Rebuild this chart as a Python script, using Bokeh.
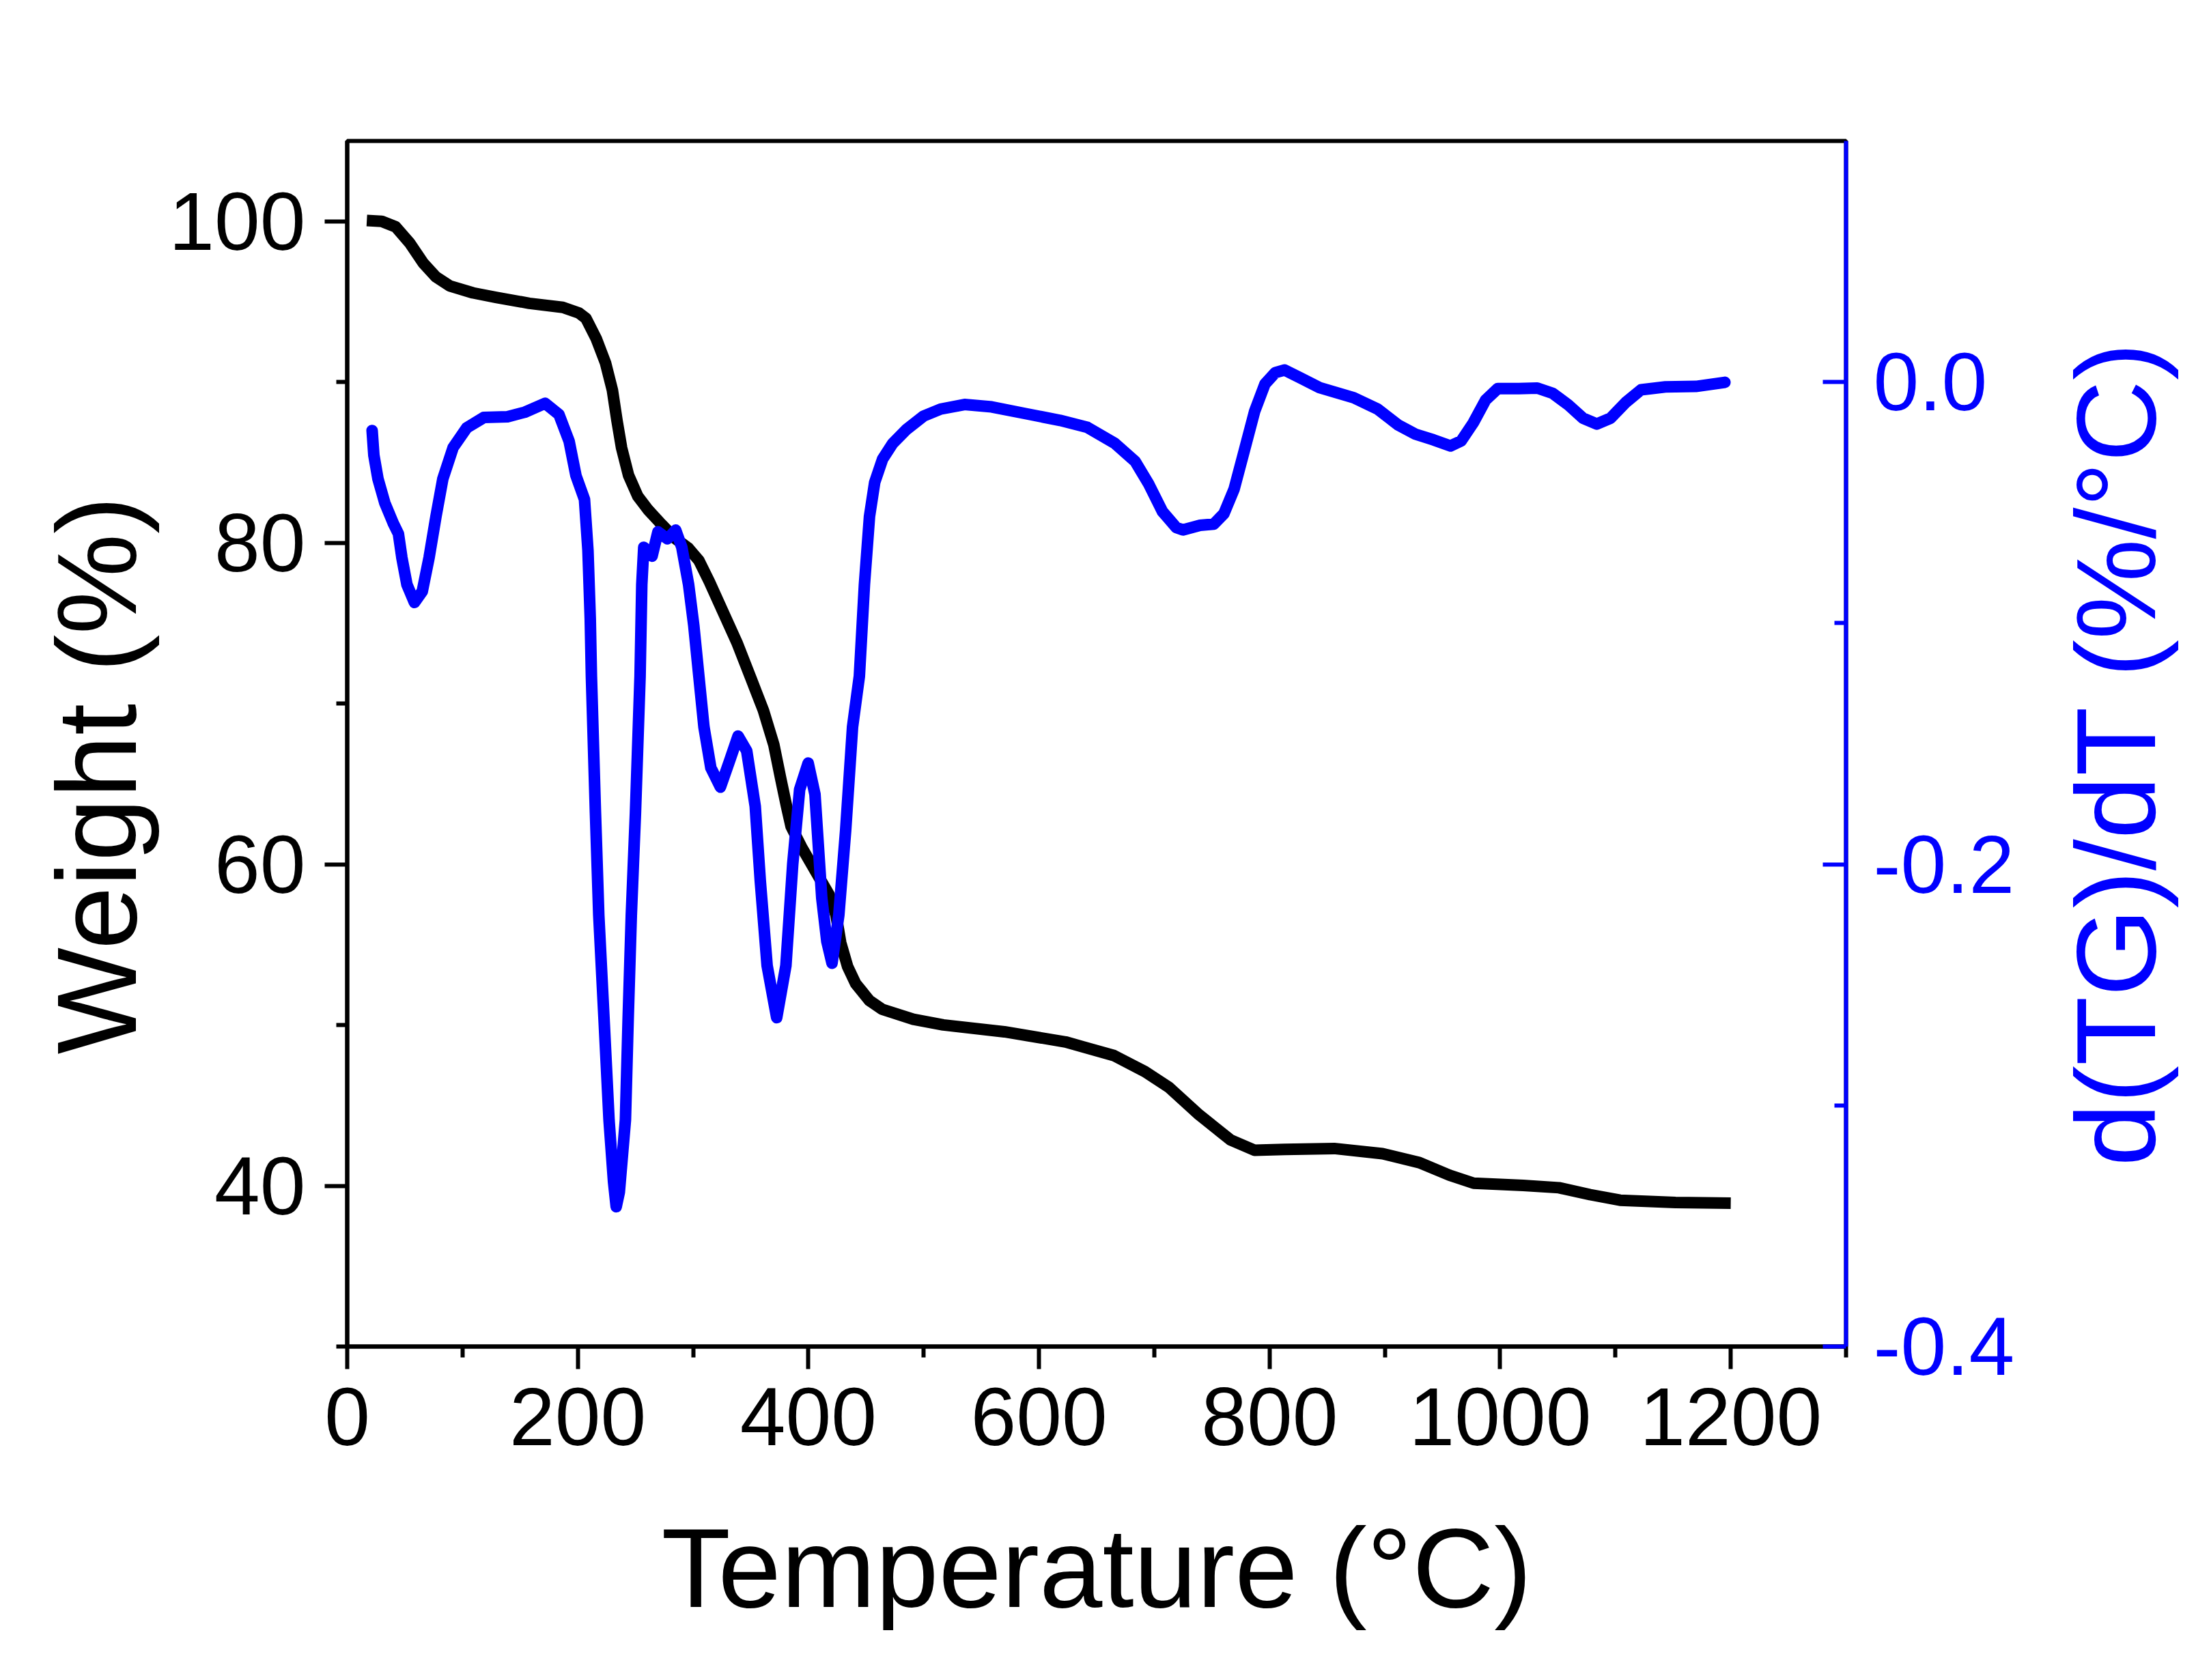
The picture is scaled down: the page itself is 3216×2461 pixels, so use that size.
import math
from bokeh.plotting import figure
from bokeh.models import Range1d, LinearAxis, FixedTicker, PrintfTickFormatter
from bokeh.embed import file_html
from bokeh.resources import INLINE

# ---- data ----
temp_tg = [17, 30, 42, 54, 66, 77, 89, 109, 129, 158,
           187, 201, 207, 216, 224, 230, 234, 238, 244, 252,
           261, 272, 284, 296, 305, 314, 326, 338, 350, 361,
           370, 376, 381, 385, 394, 406, 418, 424, 428, 434,
           441, 453, 464, 491, 517, 570, 623, 665, 692, 713,
           739, 766, 787, 813, 856, 898, 930, 956, 977, 1020,
           1051, 1078, 1104, 1152, 1200]
weight = [100.05, 100.0, 99.66, 98.67, 97.4, 96.54, 95.98, 95.55, 95.27, 94.9,
          94.65, 94.3, 93.97, 92.7, 91.2, 89.5, 87.6, 85.9, 84.2, 82.9,
          82.05, 81.2, 80.3, 79.66, 78.9, 77.6, 75.7, 73.8, 71.6, 69.57,
          67.45, 65.33, 63.63, 62.35, 61.08, 59.59, 58.1, 56.83, 55.13, 53.64,
          52.58, 51.52, 50.98, 50.36, 50.01, 49.58, 48.95, 48.1, 47.1, 46.11,
          44.41, 42.86, 42.21, 42.26, 42.32, 42.0, 41.44, 40.66, 40.16, 40.02,
          39.88, 39.45, 39.1, 38.96, 38.92]

temp_dtg = [21.6, 23.1, 26.7, 32.6, 40.0, 44.4, 47.4, 51.8, 58.3, 65.1,
            71.0, 77.0, 82.9, 91.8, 103.6, 118.4, 139.0, 154.0, 171.7, 183.6,
            192.5, 198.4, 205.8, 208.8, 210.8, 211.8, 215.3, 218.2, 222.7, 227.1,
            231.0, 233.3, 236.0, 241.3, 243.7, 246.4, 250.0, 254.0, 255.5, 257.2,
            260.5, 264.4, 269.5, 277.8, 284.9, 290.2, 296.1, 300.6, 305.0, 309.4,
            315.4, 323.7, 331.7, 339.0, 346.5, 353.9, 358.3, 364.2, 372.5, 380.5,
            386.4, 392.4, 399.8, 405.7, 411.6, 416.0, 420.5, 426.4, 432.3, 438.3,
            444.2, 448.6, 453.0, 457.5, 464.3, 473.2, 485.0, 499.9, 514.7, 535.4,
            559.0, 588.7, 618.3, 642.0, 665.7, 683.4, 695.3, 707.1, 719.0, 724.9,
            739.7, 751.6, 760.4, 769.3, 778.2, 787.0, 796.0, 804.9, 813.1, 825.6,
            843.4, 873.0, 893.7, 911.5, 926.5, 942.3, 956.9, 966.2, 976.7, 987.3,
            997.9, 1016.3, 1032.2, 1045.3, 1058.7, 1071.9, 1083.8, 1095.7, 1109.0, 1122.2,
            1143.3, 1169.7, 1194.9]
dtg = [-0.0201, -0.0303, -0.0402, -0.0501, -0.0586, -0.0629, -0.0728, -0.0840, -0.0914, -0.0868,
       -0.0728, -0.0557, -0.0402, -0.0272, -0.0190, -0.0147, -0.0144, -0.0125, -0.0088, -0.0134,
       -0.0246, -0.0388, -0.0487, -0.0698, -0.0982, -0.1220, -0.1787, -0.2212, -0.2637, -0.3062,
       -0.3317, -0.3420, -0.3360, -0.3060, -0.2637, -0.2212, -0.1787, -0.1220, -0.0840, -0.0685,
       -0.0700, -0.0722, -0.0621, -0.0650, -0.0614, -0.0685, -0.0840, -0.1010, -0.1220, -0.1430,
       -0.1600, -0.1680, -0.1570, -0.1468, -0.1530, -0.1760, -0.2070, -0.2420, -0.2636, -0.2420,
       -0.2000, -0.1690, -0.1580, -0.1710, -0.2140, -0.2320, -0.2410, -0.2210, -0.1860, -0.1430,
       -0.1220, -0.0840, -0.0557, -0.0416, -0.0320, -0.0254, -0.0197, -0.0141, -0.0112, -0.0093,
       -0.0103, -0.0131, -0.0159, -0.0188, -0.0254, -0.0329, -0.0424, -0.0537, -0.0603, -0.0613,
       -0.0594, -0.0589, -0.0546, -0.0443, -0.0282, -0.0122, -0.0008, 0.0039, 0.0050, 0.0020,
       -0.0023, -0.0065, -0.0112, -0.0178, -0.0216, -0.0240, -0.0265, -0.0244, -0.0169, -0.0075,
       -0.0027, -0.0027, -0.0025, -0.0046, -0.0093, -0.0150, -0.0174, -0.0150, -0.0084, -0.0032,
       -0.0020, -0.0018, -0.0001]

x_ticks = [0, 200, 400, 600, 800, 1000, 1200]
x_minor = [100, 300, 500, 700, 900, 1100, 1300]
w_ticks = [40, 60, 80, 100]
w_minor = [30, 50, 70, 90]
d_ticks = [-0.4, -0.2, 0.0]
d_minor = [-0.3, -0.1]

x_title = "Temperature (°C)"
left_title = "Weight (%)"
right_title = "d(TG)/dT (%/°C)"

FONT = "Liberation Sans"
BLUE = "#0000FF"
TICK_FS = "120px"
TITLE_FS = "166px"

FRAME_L, FRAME_T, FRAME_W, FRAME_H = 508, 206, 2195, 1766

p = figure(frame_width=FRAME_W, frame_height=FRAME_H,
           min_border_left=FRAME_L, min_border_right=497,
           min_border_top=FRAME_T, min_border_bottom=473,
           x_range=Range1d(0, 1300), y_range=Range1d(30, 105),
           output_backend="svg", toolbar_location=None, tools="")
p.extra_y_ranges = {"dtg": Range1d(-0.4, 0.1)}
p.grid.visible = False
p.background_fill_color = "white"
p.border_fill_color = "white"
p.outline_line_color = "black"
p.outline_line_width = 6
p.outline_line_alpha = 1.0


def style(ax, color, ticks, minor):
    ax.ticker = FixedTicker(ticks=ticks, minor_ticks=minor)
    ax.axis_line_color = color
    ax.axis_line_width = 6
    ax.major_tick_line_color = color
    ax.major_tick_line_width = 6
    ax.minor_tick_line_color = color
    ax.minor_tick_line_width = 6
    ax.major_label_text_color = color
    ax.major_label_text_font = FONT
    ax.major_label_text_font_size = TICK_FS
    ax.axis_label_text_color = color
    ax.axis_label_text_font = FONT
    ax.axis_label_text_font_size = TITLE_FS
    ax.axis_label_text_font_style = "normal"


xa = p.xaxis[0]
style(xa, "black", x_ticks, x_minor)
xa.axis_label = x_title
xa.major_tick_out = 33
xa.major_tick_in = 0
xa.minor_tick_out = 16
xa.minor_tick_in = 0
xa.major_label_standoff = 28
xa.axis_label_standoff = 84

ya = p.yaxis[0]
style(ya, "black", w_ticks, w_minor)
# two trailing no-break spaces nudge the centred title slightly downwards
ya.axis_label = left_title + "\u00a0" * 2
ya.major_tick_out = 33
ya.major_tick_in = 0
ya.minor_tick_out = 16
ya.minor_tick_in = 0
ya.major_label_standoff = 28
ya.axis_label_standoff = 10

ra = LinearAxis(y_range_name="dtg")
style(ra, BLUE, d_ticks, d_minor)
ra.formatter = PrintfTickFormatter(format="%.1f")
# rotated to read bottom-to-top; anchored at the bottom of the frame and
# lifted by a few no-break spaces so the title sits centred like the original
ra.axis_label = "\u00a0" * 5 + "\u2009" + right_title
ra.major_tick_out = 0
ra.major_tick_in = 34
ra.minor_tick_out = 0
ra.minor_tick_in = 17
ra.major_label_standoff = 40
ra.axis_label_orientation = math.pi / 2
ra.axis_label_align = "start"
ra.axis_label_standoff = 145
p.add_layout(ra, "right")

p.line(temp_tg, weight, line_width=17, line_color="black", line_join="round")
p.line(temp_dtg, dtg, y_range_name="dtg", line_width=17, line_color=BLUE,
       line_join="round", line_cap="round")

open("out.html", "w").write(file_html(p, INLINE))
